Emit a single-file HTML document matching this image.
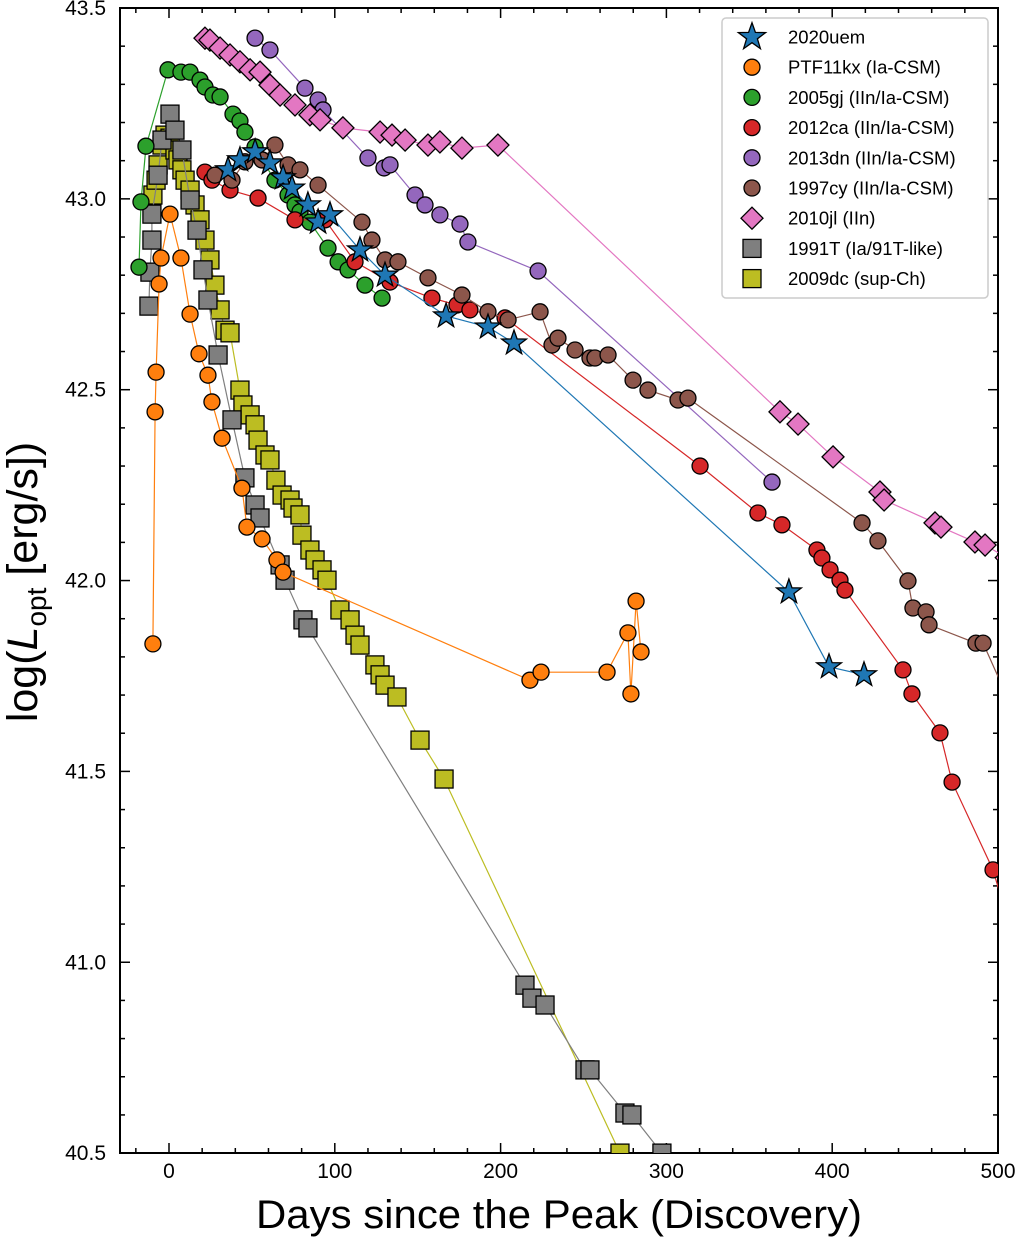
<!DOCTYPE html>
<html><head><meta charset="utf-8"><style>
html,body{margin:0;padding:0;background:#fff;}
svg{display:block;font-family:"Liberation Sans","DejaVu Sans",sans-serif;}
</style></head><body>
<svg id="chart" width="1020" height="1237" viewBox="0 0 1020 1237" xmlns="http://www.w3.org/2000/svg">
<defs><clipPath id="clip"><rect x="120" y="8" width="878" height="1145"/></clipPath></defs>
<g id="axes"></g>
<g id="series" clip-path="url(#clip)"></g>
<g id="legend"></g>
</svg>
<script>
const xTicks=[0,100,200,300,400,500];
const yTicks=[40.5,41.0,41.5,42.0,42.5,43.0,43.5];
const yTickLabels=["40.5","41.0","41.5","42.0","42.5","43.0","43.5"];
const names=["2020uem","PTF11kx (Ia-CSM)","2005gj (IIn/Ia-CSM)","2012ca (IIn/Ia-CSM)","2013dn (IIn/Ia-CSM)","1997cy (IIn/Ia-CSM)","2010jl (IIn)","1991T (Ia/91T-like)","2009dc (sup-Ch)"];
const d2020uem=[[35.6,43.076],[42.8,43.102],[51.9,43.123],[60.9,43.094],[68.8,43.055],[74.2,43.028],[83.8,42.984],[89.9,42.939],[97.1,42.958],[115.2,42.866],[130.3,42.800],[167.1,42.693],[192.4,42.664],[208.1,42.622],[373.9,41.970],[398.1,41.774],[419.2,41.753]];
const dPTF11kx=[[-9.7,41.834],[-8.4,42.442],[-7.8,42.546],[-6.0,42.777],[-4.8,42.845],[0.6,42.960],[7.2,42.845],[12.7,42.698],[18.1,42.594],[23.5,42.538],[25.9,42.468],[32.0,42.373],[44.0,42.242],[47.0,42.140],[56.1,42.109],[65.1,42.054],[68.8,42.022],[217.7,41.739],[224.4,41.760],[264.2,41.760],[276.8,41.863],[278.6,41.703],[281.7,41.946],[284.7,41.813]];
const d2005gj=[[-18.1,42.821],[-16.9,42.992],[-13.9,43.138],[-0.6,43.338],[7.2,43.332],[12.7,43.332],[18.7,43.311],[21.7,43.293],[26.5,43.272],[30.8,43.267],[38.6,43.222],[42.8,43.204],[45.8,43.175],[51.9,43.136],[56.1,43.102],[63.9,43.049],[71.8,43.010],[76.0,42.984],[79.0,42.966],[85.0,42.939],[95.9,42.871],[102.0,42.835],[108.0,42.814],[118.2,42.774],[128.5,42.740]];
const d2012ca=[[21.7,43.070],[25.9,43.049],[36.8,43.023],[53.7,43.002],[76.0,42.945],[94.1,42.945],[112.2,42.835],[133.3,42.782],[158.6,42.740],[173.7,42.722],[181.5,42.709],[202.7,42.688],[320.3,42.300],[355.2,42.177],[369.7,42.146],[390.8,42.080],[393.8,42.059],[398.7,42.028],[404.7,42.001],[407.7,41.975],[442.7,41.766],[448.1,41.703],[465.0,41.601],[472.3,41.472],[497.0,41.242],[510,41.05]];
const d2013dn=[[51.9,43.421],[60.9,43.390],[82.0,43.290],[89.9,43.259],[92.9,43.233],[120.0,43.107],[129.7,43.081],[133.3,43.089],[148.4,43.010],[154.4,42.984],[163.4,42.958],[175.5,42.934],[180.3,42.887],[222.6,42.811],[363.7,42.258]];
const d1997cy=[[27.7,43.062],[38.0,43.049],[45.8,43.097],[56.1,43.102],[63.9,43.141],[71.8,43.089],[79.0,43.076],[89.9,43.036],[116.4,42.939],[122.4,42.892],[130.3,42.840],[138.1,42.835],[156.2,42.793],[176.7,42.748],[192.4,42.704],[204.5,42.683],[223.8,42.704],[231.0,42.617],[234.6,42.635],[244.9,42.604],[253.9,42.583],[256.9,42.583],[264.8,42.591],[279.9,42.525],[288.9,42.499],[307.0,42.473],[313.0,42.478],[418.0,42.151],[427.6,42.104],[445.7,41.999],[448.7,41.928],[456.6,41.918],[458.4,41.884],[486.7,41.836],[491.0,41.836],[505,41.70]];
const d2010jl=[[21.7,43.421],[24.7,43.416],[30.8,43.395],[36.8,43.377],[42.8,43.359],[48.9,43.338],[54.9,43.332],[60.9,43.298],[67.0,43.272],[76.0,43.246],[85.0,43.220],[91.1,43.207],[104.9,43.186],[127.3,43.175],[134.5,43.167],[142.4,43.154],[156.2,43.141],[163.4,43.149],[176.7,43.133],[198.4,43.141],[368.5,42.442],[379.4,42.410],[400.5,42.324],[428.8,42.232],[431.3,42.211],[462.0,42.151],[465.6,42.140],[486.1,42.101],[492.2,42.093],[505,42.06]];
const d1991T=[[-12.1,42.719],[-11.5,42.808],[-10.3,42.892],[-10.3,42.960],[-6.6,43.062],[-4.2,43.154],[0.6,43.222],[3.6,43.180],[7.8,43.128],[12.7,42.997],[16.9,42.918],[20.5,42.814],[23.5,42.735],[29.6,42.591],[38.0,42.421],[45.8,42.269],[51.9,42.198],[54.9,42.164],[67.0,42.041],[70.0,42.001],[80.8,41.897],[83.8,41.876],[214.7,40.940],[218.9,40.906],[226.8,40.888],[250.9,40.718],[253.9,40.718],[275.0,40.605],[279.2,40.600],[297.3,40.500],[310,40.42]];
const d2009dc=[[-9.7,43.010],[-7.8,43.049],[-6.6,43.089],[-4.2,43.141],[-2.4,43.167],[0.6,43.159],[3.6,43.128],[5.4,43.102],[7.8,43.076],[9.7,43.049],[12.7,43.023],[15.7,42.984],[18.7,42.945],[21.7,42.892],[24.7,42.840],[27.7,42.774],[30.8,42.709],[33.8,42.656],[36.8,42.649],[42.8,42.499],[44.6,42.460],[48.9,42.434],[51.9,42.408],[53.7,42.368],[57.9,42.329],[60.9,42.316],[64.5,42.263],[68.2,42.224],[73.0,42.211],[74.8,42.190],[79.0,42.172],[80.2,42.119],[85.0,42.080],[88.1,42.054],[92.3,42.028],[95.3,42.001],[103.1,41.923],[109.2,41.897],[112.2,41.857],[115.2,41.831],[124.2,41.779],[127.3,41.753],[130.3,41.726],[137.5,41.695],[151.4,41.582],[165.9,41.480],[272.0,40.500],[280,40.43]];

const X0=169, XS=165.8/100, Y0=8, YS=381.7;
const sx=d=>X0+d*XS, sy=v=>Y0+(43.5-v)*YS;
const NS="http://www.w3.org/2000/svg";
function mk(tag,attrs,parent){const e=document.createElementNS(NS,tag);for(const k in attrs)e.setAttribute(k,attrs[k]);parent.appendChild(e);return e;}
const axes=document.getElementById('axes'),ser=document.getElementById('series'),leg=document.getElementById('legend');

const fr=mk('rect',{x:120,y:8,width:878,height:1145,fill:'none',stroke:'#000','stroke-width':2},axes);


for(let d=-20;d<=500;d+=20){const x=sx(d);const major=d%100===0;const L=major?10:5;
 mk('line',{x1:x,y1:1153,x2:x,y2:1153-L,stroke:'#000','stroke-width':1.5},axes);
 mk('line',{x1:x,y1:8,x2:x,y2:8+L,stroke:'#000','stroke-width':1.5},axes);}
xTicks.forEach(d=>{const t=mk('text',{x:sx(d),y:1178,'text-anchor':'middle','font-size':21},axes);t.textContent=d;
 
 });
for(let v=40.5;v<=43.5001;v+=0.1){const y=sy(v);const major=Math.abs(v*2-Math.round(v*2))<1e-6;const L=major?10:5;
 mk('line',{x1:120,y1:y,x2:120+L,y2:y,stroke:'#000','stroke-width':1.5},axes);
 mk('line',{x1:998,y1:y,x2:998-L,y2:y,stroke:'#000','stroke-width':1.5},axes);}
yTicks.forEach((v,i)=>{const t=mk('text',{x:106,y:sy(v)+7,'text-anchor':'end','font-size':21},axes);t.textContent=yTickLabels[i];
 
 });
const xl=mk('text',{x:256,y:1228,'font-size':40,textLength:606,lengthAdjust:'spacingAndGlyphs'},axes);xl.textContent='Days since the Peak (Discovery)';


const yl=mk('text',{transform:'translate(37,582) rotate(-90)','text-anchor':'middle','font-size':43},axes);
yl.innerHTML='log(<tspan font-style="italic">L</tspan><tspan font-size="28" dy="9">opt</tspan><tspan dy="-9"> [erg/s])</tspan>';



function marker(shape,x,y,col,parent,s){s=s||1;
 if(shape==='circle')return mk('circle',{cx:x,cy:y,r:8*s,fill:col,stroke:'#000','stroke-width':1.3},parent);
 if(shape==='square')return mk('rect',{x:x-9*s,y:y-9*s,width:18*s,height:18*s,fill:col,stroke:'#000','stroke-width':1.3},parent);
 if(shape==='diamond'){const r=11*s;return mk('polygon',{points:`${x},${y-r} ${x+r},${y} ${x},${y+r} ${x-r},${y}`,fill:col,stroke:'#000','stroke-width':1.3},parent);}
 if(shape==='star'){let p=[];const R=13*s,r=5.2*s;for(let i=0;i<10;i++){const a=-Math.PI/2+i*Math.PI/5;const rr=i%2?r:R;p.push((x+rr*Math.cos(a)).toFixed(1)+','+(y+rr*Math.sin(a)).toFixed(1));}
  return mk('polygon',{points:p.join(' '),fill:col,stroke:'#000','stroke-width':1.3},parent);}
}
const series=[
 {key:'sn-2009dc',data:d2009dc,col:'#bcbd22',shape:'square'},
 {key:'sn-1991t',data:d1991T,col:'#7f7f7f',shape:'square'},
 {key:'sn-ptf11kx',data:dPTF11kx,col:'#ff7f0e',shape:'circle'},
 {key:'sn-2005gj',data:d2005gj,col:'#2ca02c',shape:'circle'},
 {key:'sn-2012ca',data:d2012ca,col:'#d62728',shape:'circle'},
 {key:'sn-2013dn',data:d2013dn,col:'#9467bd',shape:'circle'},
 {key:'sn-1997cy',data:d1997cy,col:'#8c564b',shape:'circle'},
 {key:'sn-2010jl',data:d2010jl,col:'#e377c2',shape:'diamond'},
 {key:'sn-2020uem',data:d2020uem,col:'#1f77b4',shape:'star'}
];
series.forEach(s=>{
 const g=mk('g',{},ser);
 
 
 const ln=mk('polyline',{points:s.data.map(p=>sx(p[0]).toFixed(1)+','+sy(p[1]).toFixed(1)).join(' '),fill:'none',stroke:s.col,'stroke-width':1.2},g);
 
 
 s.data.forEach(p=>{const m=marker(s.shape,sx(p[0]),sy(p[1]),s.col,g);
  
  });
});
const lb=mk('rect',{x:722,y:18,width:266,height:280,rx:4,fill:'#fff',stroke:'#ccc','stroke-width':1.5},leg);


const order=['star','circle','circle','circle','circle','circle','diamond','square','square'];
const cols=['#1f77b4','#ff7f0e','#2ca02c','#d62728','#9467bd','#8c564b','#e377c2','#7f7f7f','#bcbd22'];
names.forEach((n,i)=>{const y=37+i*30.2;
 const g=mk('g',{},leg);
 
 
 marker(order[i],752,y,cols[i],g,order[i]==='star'?1.1:1);
 const t=mk('text',{x:788,y:y+6.5,'font-size':18.5},g);t.textContent=n;});
</script>
</body></html>
